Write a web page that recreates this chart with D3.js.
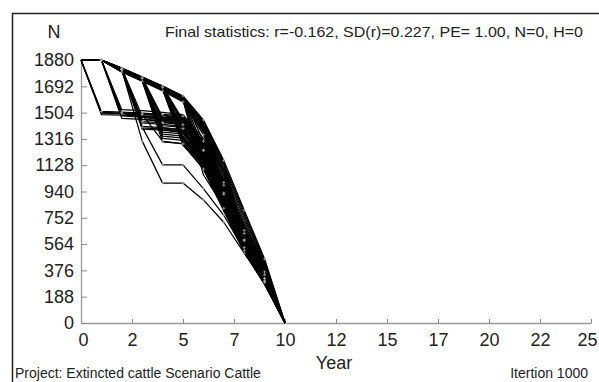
<!DOCTYPE html>
<html>
<head>
<meta charset="utf-8">
<script src="https://cdn.jsdelivr.net/npm/d3@7/dist/d3.min.js"></script>
<style>
  html, body { margin: 0; padding: 0; background: #fff; }
  svg { display: block; font-family: "Liberation Sans", Arial, sans-serif; }
</style>
</head>
<body>
<svg id="chart" width="599" height="382"></svg>
<script>
// Simulated population trajectories, one value per year (year 0..10)
const years = [0, 1, 2, 3, 4, 5, 6, 7, 8, 9, 10];

// runs that stay near the ceiling until year 5
const runsSteady = [
  [1880,1880,1822,1758,1694,1623,1452,1162,806,458,0],
  [1880,1880,1818,1754,1690,1618,1440,1140,790,445,0],
  [1880,1880,1814,1750,1686,1612,1428,1120,772,432,0],
  [1880,1880,1810,1746,1680,1606,1412,1098,752,420,0],
  [1880,1880,1806,1742,1675,1600,1396,1076,730,405,0],
  [1880,1880,1802,1738,1670,1594,1380,1052,708,392,0],
  [1880,1880,1798,1733,1664,1588,1362,1030,686,378,0],
  [1880,1880,1794,1728,1658,1580,1345,1005,662,365,0]
];
// runs hit by a crash in year 1
const runsCrashYear1 = [
  [1880,1512,1508,1500,1492,1480,1300,985,640,345,0],
  [1880,1500,1497,1490,1482,1466,1270,955,612,330,0],
  [1880,1490,1486,1478,1466,1450,1242,930,590,318,0],
  [1880,1505,1500,1470,1455,1430,1215,905,570,305,0]
];
// runs hit by a crash in year 2
const runsCrashYear2 = [
  [1880,1880,1525,1518,1505,1490,1320,1010,660,352,0],
  [1880,1880,1505,1496,1485,1470,1290,975,625,338,0],
  [1880,1880,1480,1472,1460,1445,1255,940,598,322,0],
  [1880,1880,1462,1455,1440,1420,1230,918,580,310,0]
];
// runs hit by a crash in year 3
const runsCrashYear3 = [
  [1880,1880,1820,1480,1472,1460,1285,970,630,340,0],
  [1880,1880,1816,1455,1448,1436,1250,935,600,325,0],
  [1880,1880,1814,1440,1432,1418,1235,920,588,318,0],
  [1880,1880,1812,1430,1420,1405,1220,905,575,312,0],
  [1880,1880,1808,1405,1396,1380,1190,880,552,300,0],
  [1880,1880,1806,1395,1388,1372,1180,870,545,296,0],
  [1880,1880,1804,1385,1378,1362,1170,860,540,292,0]
];
// runs hit by a crash in year 4
const runsCrashYear4 = [
  [1880,1880,1818,1754,1470,1460,1275,960,615,335,0],
  [1880,1880,1816,1752,1455,1445,1260,945,605,328,0],
  [1880,1880,1814,1750,1440,1430,1245,930,592,320,0],
  [1880,1880,1810,1746,1410,1398,1210,900,570,308,0],
  [1880,1880,1808,1744,1395,1382,1195,886,560,302,0],
  [1880,1880,1806,1742,1380,1366,1180,872,550,298,0],
  [1880,1880,1796,1732,1365,1352,1165,858,540,292,0],
  [1880,1880,1802,1738,1350,1336,1150,845,530,288,0],
  [1880,1880,1800,1736,1335,1321,1135,832,522,284,0],
  [1880,1880,1798,1734,1320,1306,1120,820,515,280,0],
  [1880,1880,1794,1730,1295,1282,1100,800,505,275,0]
];
// runs hit by a crash in year 5
const runsCrashYear5 = [
  [1880,1880,1820,1756,1692,1450,1300,990,650,348,0],
  [1880,1880,1818,1754,1690,1435,1282,975,635,340,0],
  [1880,1880,1816,1752,1688,1420,1265,960,620,332,0],
  [1880,1880,1812,1748,1684,1390,1235,930,595,318,0],
  [1880,1880,1810,1746,1682,1375,1218,914,582,312,0],
  [1880,1880,1808,1744,1680,1360,1200,898,568,305,0],
  [1880,1880,1804,1740,1676,1330,1170,870,548,295,0],
  [1880,1880,1802,1738,1674,1315,1155,856,538,290,0],
  [1880,1880,1800,1736,1672,1300,1140,842,528,285,0],
  [1880,1880,1798,1734,1670,1285,1125,828,518,282,0],
  [1880,1880,1796,1732,1668,1270,1110,815,510,278,0]
];
// runs hit by a crash in year 6
const runsCrashYear6 = [
  [1880,1880,1822,1758,1694,1620,1300,1020,680,380,0],
  [1880,1880,1818,1754,1690,1615,1250,980,650,362,0],
  [1880,1880,1814,1750,1686,1610,1200,940,620,345,0],
  [1880,1880,1810,1746,1682,1604,1150,900,590,330,0],
  [1880,1880,1806,1742,1678,1598,1100,860,560,315,0],
  [1880,1880,1802,1738,1674,1592,1060,830,535,300,0]
];
// runs hit by a crash in year 7
const runsCrashYear7 = [
  [1880,1880,1820,1756,1690,1618,1445,1000,700,420,0],
  [1880,1880,1816,1752,1686,1612,1430,950,680,400,0],
  [1880,1880,1812,1748,1682,1606,1410,900,650,380,0],
  [1880,1880,1808,1744,1678,1600,1390,850,620,360,0],
  [1880,1880,1804,1740,1674,1594,1370,800,590,340,0]
];
// runs hit by a crash in year 8
const runsCrashYear8 = [
  [1880,1880,1818,1754,1688,1615,1440,1150,620,360,0],
  [1880,1880,1814,1750,1684,1610,1425,1120,580,340,0],
  [1880,1880,1810,1746,1680,1604,1405,1090,540,320,0],
  [1880,1880,1806,1742,1676,1598,1385,1060,500,300,0]
];
// runs with two successive crashes
const runsDoubleCrash = [
  [1880,1880,1815,1400,1130,1130,960,770,520,300,0],
  [1880,1880,1810,1300,1000,1000,880,720,500,290,0],
  [1880,1880,1500,1490,1300,1280,1100,820,540,300,0]
];

const yTicks = [0, 188, 376, 564, 752, 940, 1128, 1316, 1504, 1692, 1880];
const xTicks = [0, 2.5, 5, 7.5, 10, 12.5, 15, 17.5, 20, 22.5, 25];
const xTickLabels = ["0", "2", "5", "7", "10", "12", "15", "17", "20", "22", "25"];

const titleText = "Final statistics: r=-0.162, SD(r)=0.227, PE= 1.00, N=0, H=0";
const footerLeft = "Project: Extincted cattle Scenario Cattle";
const footerRight = "Itertion 1000";

const runs = [].concat(runsSteady, runsCrashYear1, runsCrashYear2, runsCrashYear3,
  runsCrashYear4, runsCrashYear5, runsCrashYear6, runsCrashYear7, runsCrashYear8,
  runsDoubleCrash);

const svg = d3.select("#chart");
const x = d3.scaleLinear().domain([0, 25]).range([81, 591]);
const y = d3.scaleLinear().domain([0, 1880]).range([323, 60]);

// outer frame (top and left edges)
svg.append("path")
  .attr("d", "M12.5,382 L12.5,13.5 L599,13.5")
  .attr("fill", "none").attr("stroke", "#222").attr("stroke-width", 1.5);

// axes
const xAxis = d3.axisBottom(x).tickValues(xTicks)
  .tickFormat((d, i) => xTickLabels[i]).tickSizeInner(-4).tickSizeOuter(0).tickPadding(10);
const yAxis = d3.axisLeft(y).tickValues(yTicks).tickFormat(d3.format("d"))
  .tickSizeInner(-6).tickSizeOuter(0).tickPadding(7);

const gx = svg.append("g").attr("transform", "translate(0,323)").call(xAxis);
const gy = svg.append("g").attr("transform", "translate(81,0)").call(yAxis);
[gx, gy].forEach(g => {
  g.select(".domain").attr("stroke", "#999").attr("stroke-width", 1.3);
  g.selectAll(".tick line").attr("stroke", "#888").attr("stroke-width", 1);
  g.selectAll(".tick text").attr("fill", "#222").attr("font-size", 18)
    .attr("font-family", "'Liberation Sans', Arial, sans-serif");
});
// end labels sit slightly inside the axis span
gx.selectAll(".tick text").attr("dx", (d, i) => i === 0 ? 2 : (i === xTicks.length - 1 ? -4 : 0));

// trajectories
const line = d3.line().x((d, i) => x(years[i])).y(d => y(d));
svg.append("g").selectAll("path").data(runs).join("path")
  .attr("d", line)
  .attr("fill", "none").attr("stroke", "#000").attr("stroke-width", 1.25)
  .attr("stroke-linejoin", "round");

// small markers at yearly points of the leading run of each group
const markedRuns = [runsSteady[0], runsSteady[7], runsCrashYear1[0], runsCrashYear3[2],
  runsCrashYear5[3], runsDoubleCrash[0], runsDoubleCrash[1], runsDoubleCrash[2]];
const pts = [];
markedRuns.forEach(r => r.forEach((v, i) => { if (i > 0 && v > 0) pts.push([years[i], v]); }));
svg.append("g").selectAll("path").data(pts).join("path")
  .attr("d", d => `M${x(d[0]) - 1.5},${y(d[1])} h3 M${x(d[0])},${y(d[1]) - 1.5} v3`)
  .attr("stroke", "#aaa").attr("stroke-width", 0.8);

// texts
svg.append("text").attr("x", 54).attr("y", 38).attr("text-anchor", "middle")
  .attr("font-size", 18).attr("fill", "#222").text("N");
svg.append("text").attr("x", 165).attr("y", 37)
  .attr("font-size", 15).attr("fill", "#222")
  .attr("textLength", 418).attr("lengthAdjust", "spacingAndGlyphs").text(titleText);
svg.append("text").attr("x", 334).attr("y", 369).attr("text-anchor", "middle")
  .attr("font-size", 18).attr("fill", "#222").text("Year");
svg.append("text").attr("x", 15).attr("y", 378)
  .attr("font-size", 14).attr("fill", "#222").text(footerLeft);
svg.append("text").attr("x", 588).attr("y", 378).attr("text-anchor", "end")
  .attr("font-size", 14).attr("fill", "#222").text(footerRight);
</script>
</body>
</html>
